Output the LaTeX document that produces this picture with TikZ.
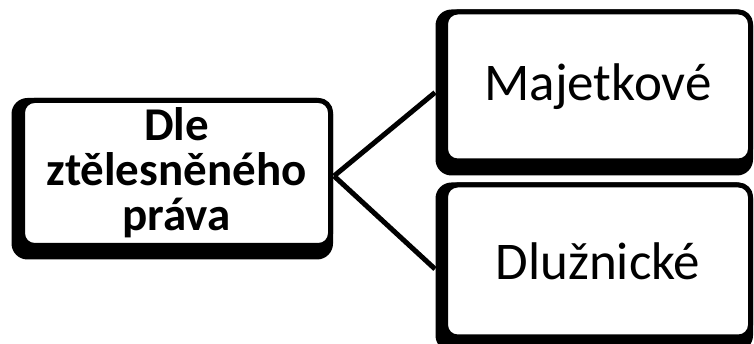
\documentclass[tikz,border=0pt]{standalone}
\usepackage{fontspec}
\setmainfont{Carlito}
\usetikzlibrary{backgrounds}
\tikzset{
  box/.style={draw=black, fill=white, line width=5pt, rounded corners=12pt, inner sep=0pt, align=center},
  shadowbox/.style={fill=black, rounded corners=16pt},
  link/.style={draw=black, line width=5pt}
}
\begin{document}
\begin{tikzpicture}[x=1pt,y=1pt]
\useasboundingbox (0,0) rectangle (754,344);
\node[box, minimum width=308pt, minimum height=145pt, font=\fontsize{47}{44}\selectfont\bfseries] (a) at (176.5,171) {Dle\\[1pt]ztělesněného\\[1pt]práva};
\node[box, minimum width=305pt, minimum height=149pt, font=\fontsize{53}{60}\selectfont] (b) at (598,257.5) {Majetkové};
\node[box, minimum width=305pt, minimum height=152pt, font=\fontsize{53}{60}\selectfont] (c) at (598,83) {Dlužnické};
\begin{scope}[on background layer]
\fill[shadowbox] ([xshift=-8.5pt,yshift=-11.5pt]a.south west) rectangle (a.north east);
\fill[shadowbox] ([xshift=-7.5pt,yshift=-12pt]b.south west) rectangle (b.north east);
\fill[shadowbox] ([xshift=-7.5pt,yshift=-12pt]c.south west) rectangle (c.north east);
\end{scope}
\draw[link] ([xshift=1pt,yshift=-3pt]a.east) -- ([xshift=-8pt,yshift=-6pt]b.west);
\draw[link] ([xshift=1pt,yshift=-3pt]a.east) -- ([xshift=-8pt,yshift=-8pt]c.west);
\end{tikzpicture}
\end{document}
